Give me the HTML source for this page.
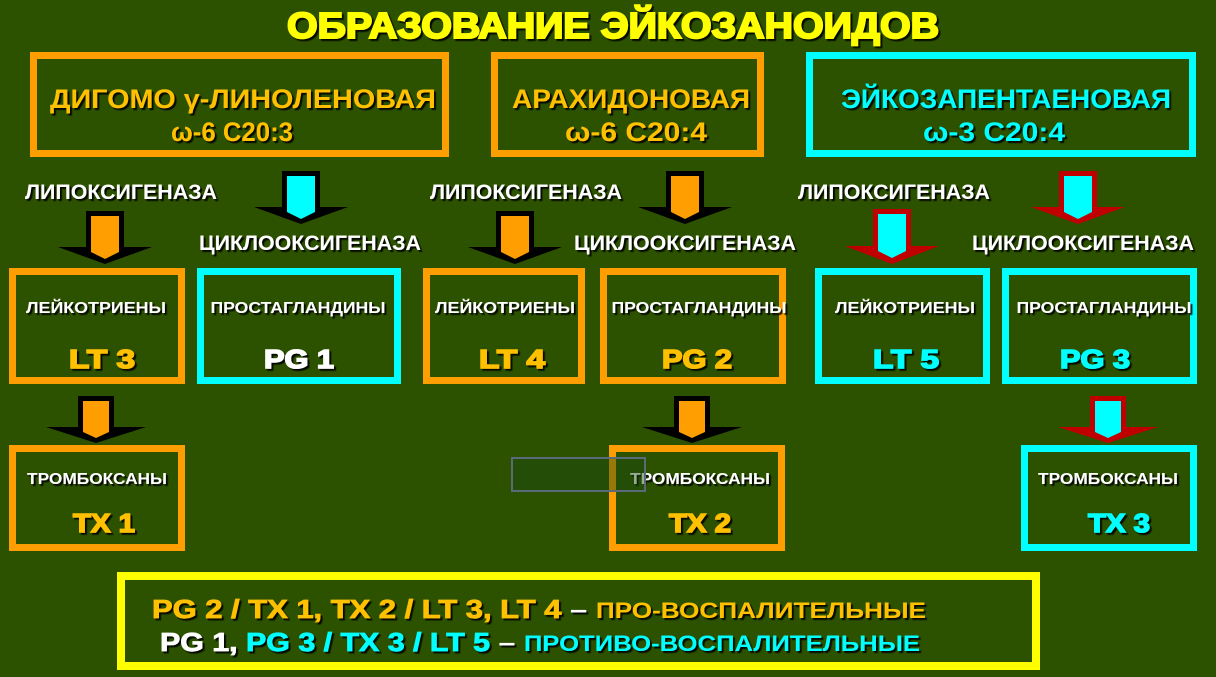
<!DOCTYPE html>
<html><head><meta charset="utf-8"><style>
html,body{margin:0;padding:0;background:#2c5200;}
svg{display:block}
text{font-family:"Liberation Sans",Arial,sans-serif;font-weight:bold;}
</style></head><body>
<svg width="1216" height="677" viewBox="0 0 1216 677" xmlns="http://www.w3.org/2000/svg">
<defs>
<filter id="sh" x="-10%" y="-30%" width="130%" height="160%"><feDropShadow dx="2" dy="2" stdDeviation="0.6" flood-color="#000" flood-opacity="0.9"/></filter>
</defs>
<rect width="1216" height="677" fill="#2c5200"/>
<g fill="none" stroke-width="7">
<rect x="33.5" y="55.5" width="412" height="98" stroke="#ff9e00"/>
<rect x="494.5" y="55.5" width="266" height="98" stroke="#ff9e00"/>
<rect x="809.5" y="55.5" width="383" height="98" stroke="#00ffff"/>
<rect x="12.5" y="271.5" width="169" height="109" stroke="#ff9e00"/>
<rect x="200.5" y="271.5" width="197" height="109" stroke="#00ffff"/>
<rect x="426.5" y="271.5" width="155" height="109" stroke="#ff9e00"/>
<rect x="603.5" y="271.5" width="179" height="109" stroke="#ff9e00"/>
<rect x="818.5" y="271.5" width="168" height="109" stroke="#00ffff"/>
<rect x="1005.5" y="271.5" width="188" height="109" stroke="#00ffff"/>
<rect x="12.5" y="448.5" width="169" height="99" stroke="#ff9e00"/>
<rect x="612.5" y="448.5" width="169" height="99" stroke="#ff9e00"/>
<rect x="1024.5" y="448.5" width="169" height="99" stroke="#00ffff"/>
<rect x="121" y="576" width="915" height="90" stroke="#ffff00" stroke-width="8"/>
</g>
<g>
<polygon points="86,211 124,211 124,247 152,247 105,264 58,247 86,247" fill="#000"/>
<polygon points="91,216 119,216 119,252 105,259 91,252" fill="#ff9e00"/>
<polygon points="282,171 320,171 320,207 348,207 301,224 254,207 282,207" fill="#000"/>
<polygon points="287,176 315,176 315,212 301,219 287,212" fill="#00ffff"/>
<polygon points="496,211 534,211 534,247 562,247 515,264 468,247 496,247" fill="#000"/>
<polygon points="501,216 529,216 529,252 515,259 501,252" fill="#ff9e00"/>
<polygon points="666,171 704,171 704,207 732,207 685,224 638,207 666,207" fill="#000"/>
<polygon points="671,176 699,176 699,212 685,219 671,212" fill="#ff9e00"/>
<polygon points="873,209 911,209 911,246 939,246 892,264 845,246 873,246" fill="#c00000"/>
<polygon points="878,214 906,214 906,251 892,258 878,251" fill="#00ffff"/>
<polygon points="1059,171 1097,171 1097,207 1125,207 1078,224 1031,207 1059,207" fill="#c00000"/>
<polygon points="1064,176 1092,176 1092,212 1078,219 1064,212" fill="#00ffff"/>
<polygon points="78,396 114,396 114,427 146,427 96,443 46,427 78,427" fill="#000"/>
<polygon points="83,401 109,401 109,432 96,438 83,432" fill="#ff9e00"/>
<polygon points="674,396 710,396 710,427 742,427 692,443 642,427 674,427" fill="#000"/>
<polygon points="679,401 705,401 705,432 692,438 679,432" fill="#ff9e00"/>
<polygon points="1090,396 1126,396 1126,427 1158,427 1108,443 1058,427 1090,427" fill="#c00000"/>
<polygon points="1095,401 1121,401 1121,432 1108,438 1095,432" fill="#00ffff"/>
</g>
<g filter="url(#sh)">
<text x="613" y="38" font-size="36" fill="#ffff00" text-anchor="middle" stroke="#ffff00" stroke-width="2" textLength="652" lengthAdjust="spacingAndGlyphs">ОБРАЗОВАНИЕ  ЭЙКОЗАНОИДОВ</text>
<g font-size="27" lengthAdjust="spacingAndGlyphs" text-anchor="middle">
<text x="243" y="108" fill="#ffc000" textLength="386" lengthAdjust="spacingAndGlyphs">ДИГОМО γ-ЛИНОЛЕНОВАЯ</text>
<text x="232" y="141" fill="#ffc000" textLength="122" lengthAdjust="spacingAndGlyphs">ω-6 C20:3</text>
<text x="631" y="108" fill="#ffc000" textLength="238" lengthAdjust="spacingAndGlyphs">АРАХИДОНОВАЯ</text>
<text x="636" y="141" fill="#ffc000" textLength="142" lengthAdjust="spacingAndGlyphs">ω-6 C20:4</text>
<text x="1006" y="108" fill="#00ffff" textLength="330" lengthAdjust="spacingAndGlyphs">ЭЙКОЗАПЕНТАЕНОВАЯ</text>
<text x="994" y="141" fill="#00ffff" textLength="142" lengthAdjust="spacingAndGlyphs">ω-3 C20:4</text>
</g>
<g font-size="21" fill="#fff" text-anchor="middle">
<text x="121" y="199" textLength="192" lengthAdjust="spacingAndGlyphs">ЛИПОКСИГЕНАЗА</text>
<text x="310" y="250" textLength="222" lengthAdjust="spacingAndGlyphs">ЦИКЛООКСИГЕНАЗА</text>
<text x="526" y="199" textLength="192" lengthAdjust="spacingAndGlyphs">ЛИПОКСИГЕНАЗА</text>
<text x="685" y="250" textLength="222" lengthAdjust="spacingAndGlyphs">ЦИКЛООКСИГЕНАЗА</text>
<text x="894" y="199" textLength="192" lengthAdjust="spacingAndGlyphs">ЛИПОКСИГЕНАЗА</text>
<text x="1083" y="250" textLength="222" lengthAdjust="spacingAndGlyphs">ЦИКЛООКСИГЕНАЗА</text>
</g>
<g font-size="16" fill="#fff" text-anchor="middle">
<text x="96" y="313" textLength="140" lengthAdjust="spacingAndGlyphs">ЛЕЙКОТРИЕНЫ</text>
<text x="298" y="313" textLength="175" lengthAdjust="spacingAndGlyphs">ПРОСТАГЛАНДИНЫ</text>
<text x="505" y="313" textLength="140" lengthAdjust="spacingAndGlyphs">ЛЕЙКОТРИЕНЫ</text>
<text x="699" y="313" textLength="175" lengthAdjust="spacingAndGlyphs">ПРОСТАГЛАНДИНЫ</text>
<text x="905" y="313" textLength="140" lengthAdjust="spacingAndGlyphs">ЛЕЙКОТРИЕНЫ</text>
<text x="1104" y="313" textLength="175" lengthAdjust="spacingAndGlyphs">ПРОСТАГЛАНДИНЫ</text>
<text x="97" y="484" textLength="140" lengthAdjust="spacingAndGlyphs">ТРОМБОКСАНЫ</text>
<text x="700" y="484" textLength="140" lengthAdjust="spacingAndGlyphs">ТРОМБОКСАНЫ</text>
<text x="1108" y="484" textLength="140" lengthAdjust="spacingAndGlyphs">ТРОМБОКСАНЫ</text>
</g>
<g font-size="26" text-anchor="middle" stroke-width="1.5">
<text x="102" y="368" fill="#ffc000" stroke="#ffc000" textLength="66" lengthAdjust="spacingAndGlyphs">LT 3</text>
<text x="299" y="368" fill="#fff" stroke="#fff" textLength="70" lengthAdjust="spacingAndGlyphs">PG 1</text>
<text x="512" y="368" fill="#ffc000" stroke="#ffc000" textLength="66" lengthAdjust="spacingAndGlyphs">LT 4</text>
<text x="697" y="368" fill="#ffc000" stroke="#ffc000" textLength="70" lengthAdjust="spacingAndGlyphs">PG 2</text>
<text x="906" y="368" fill="#00ffff" stroke="#00ffff" textLength="66" lengthAdjust="spacingAndGlyphs">LT 5</text>
<text x="1095" y="368" fill="#00ffff" stroke="#00ffff" textLength="70" lengthAdjust="spacingAndGlyphs">PG 3</text>
<text x="104" y="532" fill="#ffc000" stroke="#ffc000" textLength="62" lengthAdjust="spacingAndGlyphs">TX 1</text>
<text x="700" y="532" fill="#ffc000" stroke="#ffc000" textLength="62" lengthAdjust="spacingAndGlyphs">TX 2</text>
<text x="1119" y="532" fill="#00ffff" stroke="#00ffff" textLength="62" lengthAdjust="spacingAndGlyphs">TX 3</text>
</g>
<text x="152" y="618" font-size="26" fill="#ffc000" textLength="774" lengthAdjust="spacingAndGlyphs"><tspan stroke="#ffc000" stroke-width="0.8">PG 2 / TX 1, TX 2 / LT 3, LT 4</tspan><tspan fill="#fff"> – </tspan><tspan font-size="22">ПРО-ВОСПАЛИТЕЛЬНЫЕ</tspan></text>
<text x="160" y="651" font-size="26" fill="#00ffff" textLength="760" lengthAdjust="spacingAndGlyphs"><tspan fill="#fff" stroke="#fff" stroke-width="0.8">PG 1,</tspan><tspan stroke="#00ffff" stroke-width="0.8"> PG 3 / TX 3 / LT 5</tspan><tspan fill="#fff"> – </tspan><tspan font-size="22">ПРОТИВО-ВОСПАЛИТЕЛЬНЫЕ</tspan></text>
</g>
<rect x="512" y="458" width="133" height="33" fill="#1a4a10" fill-opacity="0.45" stroke="#5a6a78" stroke-width="2"/>
</svg>
</body></html>
